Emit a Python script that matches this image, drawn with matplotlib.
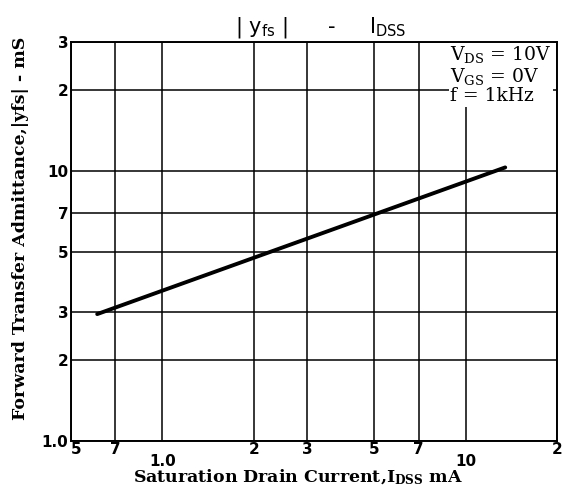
import matplotlib.pyplot as plt
import matplotlib.transforms as mtransforms

# curve end points (IDSS mA, |yfs| mS)
idss = [0.61, 13.5]
yfs = [2.95, 10.3]

x_ticks = [0.5, 0.7, 1.0, 2, 3, 5, 7, 10, 20]
x_labels = ["5", "7", "1.0", "2", "3", "5", "7", "10", "2"]
y_ticks = [1, 2, 3, 5, 7, 10, 20, 30]
y_labels = ["1.0", "2", "3", "5", "7", "10", "2", "3"]
conds = ["V$_{DS}$ = 10V", "V$_{GS}$ = 0V", "f = 1kHz"]

plt.rcParams['mathtext.default'] = 'regular'

fig = plt.figure(figsize=(5.62, 4.93), dpi=100)
ax = fig.add_axes([71/562, 1-441/493, 486/562, 399/493])

ax.set_xscale('log')
ax.set_yscale('log')
ax.set_xlim(0.5, 20)
ax.set_ylim(1, 30)
ax.set_xticks(x_ticks)
ax.set_xticklabels(x_labels)
ax.set_yticks(y_ticks)
ax.set_yticklabels(y_labels)
ax.minorticks_off()
ax.tick_params(length=0, labelsize=11)
ax.tick_params(axis='x', pad=1)
ax.tick_params(axis='y', pad=2)
for lab in ax.get_xticklabels() + ax.get_yticklabels():
    lab.set_fontweight('bold')

# "1.0" and "10" sit one row lower, first "5" a bit to the right
down = mtransforms.ScaledTranslation(0, -0.12, fig.dpi_scale_trans)
right = mtransforms.ScaledTranslation(0.05, 0, fig.dpi_scale_trans)
xl = ax.get_xticklabels()
for lab in xl:
    if lab.get_text() in ("1.0", "10"):
        lab.set_transform(lab.get_transform() + down)
xl[0].set_transform(xl[0].get_transform() + right)

ax.grid(True, color='black', lw=1.1)
ax.set_axisbelow(True)
for s in ax.spines.values():
    s.set_linewidth(1.4)
    s.set_zorder(10)

ax.plot(idss, yfs, color='black', lw=2.8, solid_capstyle='round', zorder=4)

ax.text((450-71)/486, 0.995, "\n".join(conds), transform=ax.transAxes,
        ha='left', va='top', family='DejaVu Serif', fontsize=13.5,
        linespacing=1.05,
        bbox=dict(facecolor='white', edgecolor='none', pad=1.0), zorder=5)

ax.set_xlabel("Saturation Drain Current,I$_{DSS}$ mA", family='DejaVu Serif',
              fontweight='bold', fontsize=12.5)
ax.xaxis.set_label_coords((298-71)/486, (441-468)/399)
ax.set_ylabel("Forward Transfer Admittance,|yfs| - mS", family='DejaVu Serif',
              fontweight='bold', fontsize=12.5)
ax.yaxis.set_label_coords((29-71)/486, (441-228)/399)

fig.text(261/562, 1-27/493, "| y$_{fs}$ |", ha='center', va='center', fontsize=15)
fig.text(332/562, 1-27/493, "-", ha='center', va='center', fontsize=15)
fig.text(388/562, 1-27/493, "I$_{DSS}$", ha='center', va='center', fontsize=15)

fig.savefig("out.png", dpi=100)
